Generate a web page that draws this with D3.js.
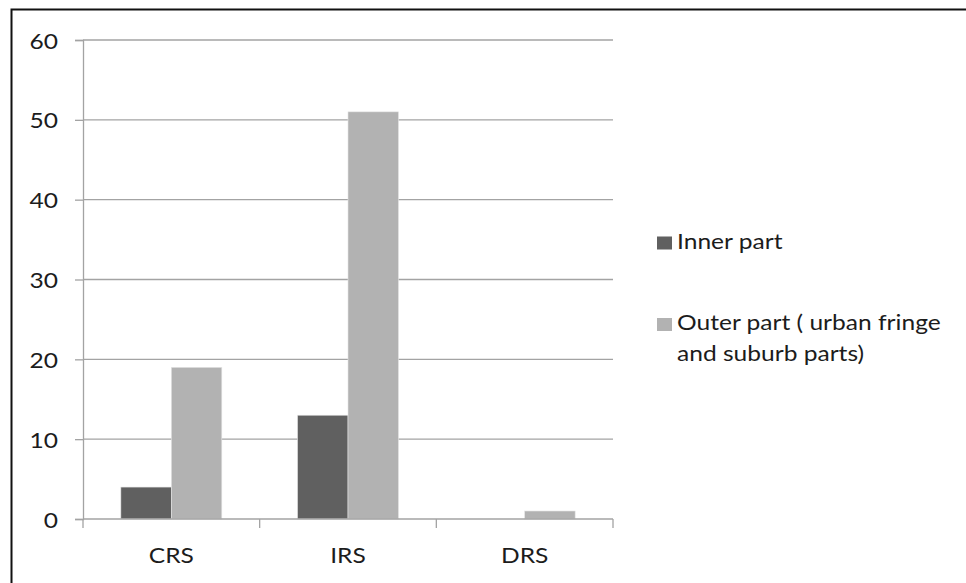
<!DOCTYPE html>
<html>
<head>
<meta charset="utf-8">
<script src="https://cdn.jsdelivr.net/npm/d3@7"></script>
<style>
  html, body { margin: 0; padding: 0; background: #fff; }
  svg { display: block; }
  text { font-family: Lato, "Open Sans", sans-serif; fill: #1c1c1c; }
</style>
</head>
<body>
<svg id="chart" width="966" height="583"></svg>
<script>
// Residential-area counts by type, split into inner and outer parts
const categories = ["CRS", "IRS", "DRS"];
const seriesNames = ["Inner part", "Outer part ( urban fringe and suburb parts)"];
const innerValues = [4, 13, 0];
const outerValues = [19, 51, 1];
const yTicks = [0, 10, 20, 30, 40, 50, 60];
const legendLines = [["Inner part"], ["Outer part ( urban fringe", "and suburb parts)"]];

const colors = ["#606060", "#b2b2b2"];
const series = [innerValues, outerValues];

// The whole chart is set in a slightly widened type
const stretch = 1.17;
const fontSize = 21;

const svg = d3.select("#chart");

// Outer frame
svg.append("path")
  .attr("d", "M11.5,583 L11.5,9.5 L966,9.5")
  .attr("fill", "none")
  .attr("stroke", "#111")
  .attr("stroke-width", 2);

const plot = { left: 83, right: 613, top: 40, bottom: 519 };

const x0 = d3.scaleBand().domain(categories).range([plot.left, plot.right]).paddingInner(0).paddingOuter(0);
const x1 = d3.scaleBand().domain(d3.range(series.length)).range([0, x0.bandwidth()]).paddingInner(0).paddingOuter(0.75);
const y = d3.scaleLinear().domain([0, 60]).range([plot.bottom, plot.top]);

const gridColor = "#a3a3a3";

// Horizontal gridlines
svg.append("g")
  .selectAll("line")
  .data(yTicks.filter(d => d !== 0))
  .join("line")
  .attr("x1", plot.left).attr("x2", plot.right)
  .attr("y1", d => y(d)).attr("y2", d => y(d))
  .attr("stroke", gridColor).attr("stroke-width", 1.3);

// Bars
const groups = svg.append("g")
  .selectAll("g")
  .data(categories)
  .join("g")
  .attr("transform", c => `translate(${x0(c)},0)`);

groups.selectAll("rect")
  .data((c, i) => series.map((s, k) => ({ k, v: s[i] })))
  .join("rect")
  .filter(d => d.v > 0)
  .attr("x", d => x1(d.k))
  .attr("width", x1.bandwidth())
  .attr("y", d => y(d.v))
  .attr("height", d => y(0) - y(d.v))
  .attr("fill", d => colors[d.k])
  .attr("stroke", "#e4e4e4")
  .attr("stroke-width", 0.6);

// Y axis
const yAxis = d3.axisLeft(y).tickValues(yTicks).tickSize(8).tickFormat(d3.format("d"));
const gy = svg.append("g").attr("transform", `translate(${plot.left},0)`).call(yAxis);
gy.select(".domain").attr("stroke", gridColor).attr("stroke-width", 1.3);
gy.selectAll(".tick line").attr("stroke", gridColor).attr("stroke-width", 1.3);
gy.selectAll(".tick text")
  .attr("x", null).attr("dy", null)
  .attr("transform", `translate(${58 - plot.left},8) scale(${stretch},1)`)
  .attr("font-size", fontSize)
  .attr("font-family", "Lato, sans-serif")
  .attr("fill", "#1c1c1c");

// X axis: ticks at category boundaries, labels centred under each group
const gx = svg.append("g").attr("transform", `translate(0,${plot.bottom})`);
gx.append("line")
  .attr("x1", plot.left).attr("x2", plot.right)
  .attr("stroke", gridColor).attr("stroke-width", 1.3);
const boundaries = categories.map(c => x0(c)).concat([x0(categories[categories.length - 1]) + x0.bandwidth()]);
gx.selectAll("line.tk")
  .data(boundaries)
  .join("line")
  .attr("class", "tk")
  .attr("x1", d => d).attr("x2", d => d)
  .attr("y1", 0).attr("y2", 9)
  .attr("stroke", gridColor).attr("stroke-width", 1.3);
gx.selectAll("text")
  .data(categories)
  .join("text")
  .attr("transform", c => `translate(${x0(c) + x0.bandwidth() / 2},43.5) scale(${stretch},1)`)
  .attr("text-anchor", "middle")
  .attr("font-size", fontSize)
  .text(c => c);

// Legend
const legend = svg.append("g");
const legendBaselines = [248.5, 330];
const lineGap = 31;
seriesNames.forEach((name, i) => {
  const g = legend.append("g").attr("transform", `translate(657,${legendBaselines[i]})`);
  g.append("rect").attr("y", -12).attr("width", 15).attr("height", 13).attr("fill", colors[i]);
  legendLines[i].forEach((line, j) => {
    g.append("text")
      .attr("transform", `translate(20,${j * lineGap}) scale(${stretch},1)`)
      .attr("font-size", fontSize)
      .text(line);
  });
});
</script>
</body>
</html>
